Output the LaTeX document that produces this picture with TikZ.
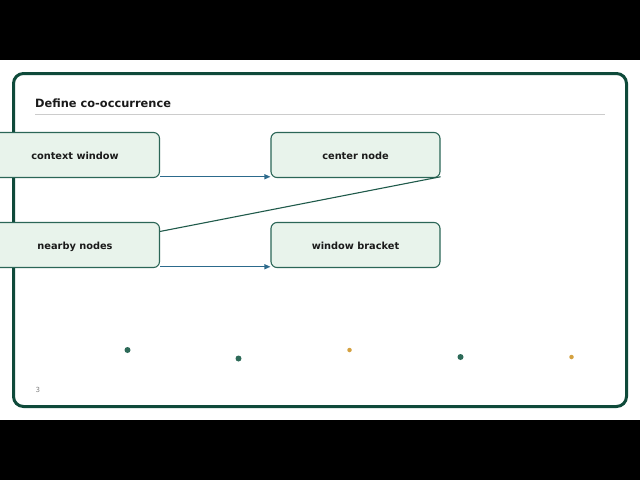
\documentclass[tikz,border=0pt]{standalone}
\usepackage{fontspec}
\setmainfont{DejaVu Sans}
\usetikzlibrary{calc,arrows.meta}
\definecolor{frame}{HTML}{0F4A3A}
\definecolor{boxline}{HTML}{2B6657}
\definecolor{boxfill}{HTML}{E8F3EB}
\definecolor{arrblue}{HTML}{2C6A8C}
\definecolor{linegreen}{HTML}{1F5A4A}
\definecolor{dotgreen}{HTML}{2D6A58}
\definecolor{dotorange}{HTML}{D4A140}
\definecolor{rulegray}{HTML}{CCCCCC}
\definecolor{txt}{HTML}{1A1A1A}
\tikzset{
  conceptbox/.style={draw=boxline, fill=boxfill, line width=1.1pt, rounded corners=6pt,
    minimum width=169pt, minimum height=45pt, inner sep=0pt, text height=8pt, text depth=0pt,
    font=\fontsize{9.8}{11}\selectfont\bfseries, text=txt},
  flowarrow/.style={draw=arrblue, line width=1.2pt, -{Triangle[length=6pt,width=5pt]}},
  linkline/.style={draw=linegreen, line width=1.1pt},
  gdot/.style={circle, fill=dotgreen, inner sep=0pt, minimum size=6pt},
  odot/.style={circle, fill=dotorange, inner sep=0pt, minimum size=4.5pt}
}
\begin{document}
\begin{tikzpicture}[x=1pt,y=-1pt]
\useasboundingbox (0,0) rectangle (640,480);
\fill[white] (0,0) rectangle (640,480);
\fill[black] (0,0) rectangle (640,60);
\fill[black] (0,420) rectangle (640,480);
\draw[frame, line width=3pt, rounded corners=10pt] (13.5,73.5) rectangle (626.5,406.5);
\node[anchor=base west, font=\fontsize{11.4}{13}\selectfont\bfseries, text=txt, inner sep=0pt] (title) at (35,107.5) {Define co-occurrence};
\draw[rulegray, line width=0.8pt] (35,114) -- (605,114);
\node[conceptbox] (cw) at (75,155) {context window};
\node[conceptbox] (cn) at (355.5,155) {center node};
\node[conceptbox] (nn) at (75,245) {nearby nodes};
\node[conceptbox] (wb) at (355.5,245) {window bracket};
\coordinate (a1) at ($(cw.south east)+(0,-1.3)$);
\coordinate (b1) at ($(cn.south west)+(0,-1.3)$);
\coordinate (a2) at ($(nn.south east)+(0,-1.3)$);
\coordinate (b2) at ($(wb.south west)+(0,-1.3)$);
\coordinate (c1) at ($(nn.north east)+(0,9.5)$);
\coordinate (c2) at ($(cn.south east)+(0,-1.3)$);
\draw[flowarrow] (a1) -- (b1);
\draw[flowarrow] (a2) -- (b2);
\draw[linkline] (c1) -- (c2);
\node[gdot] (d1) at (127.5,350) {};
\node[gdot] (d2) at (238.5,358.5) {};
\node[odot] (d3) at (349.5,350) {};
\node[gdot] (d4) at (460.5,357) {};
\node[odot] (d5) at (571.5,357) {};
\node[anchor=base west, font=\fontsize{7}{8}\selectfont, text=gray, inner sep=0pt] (pg) at (35.5,392.5) {3};
\end{tikzpicture}
\end{document}
